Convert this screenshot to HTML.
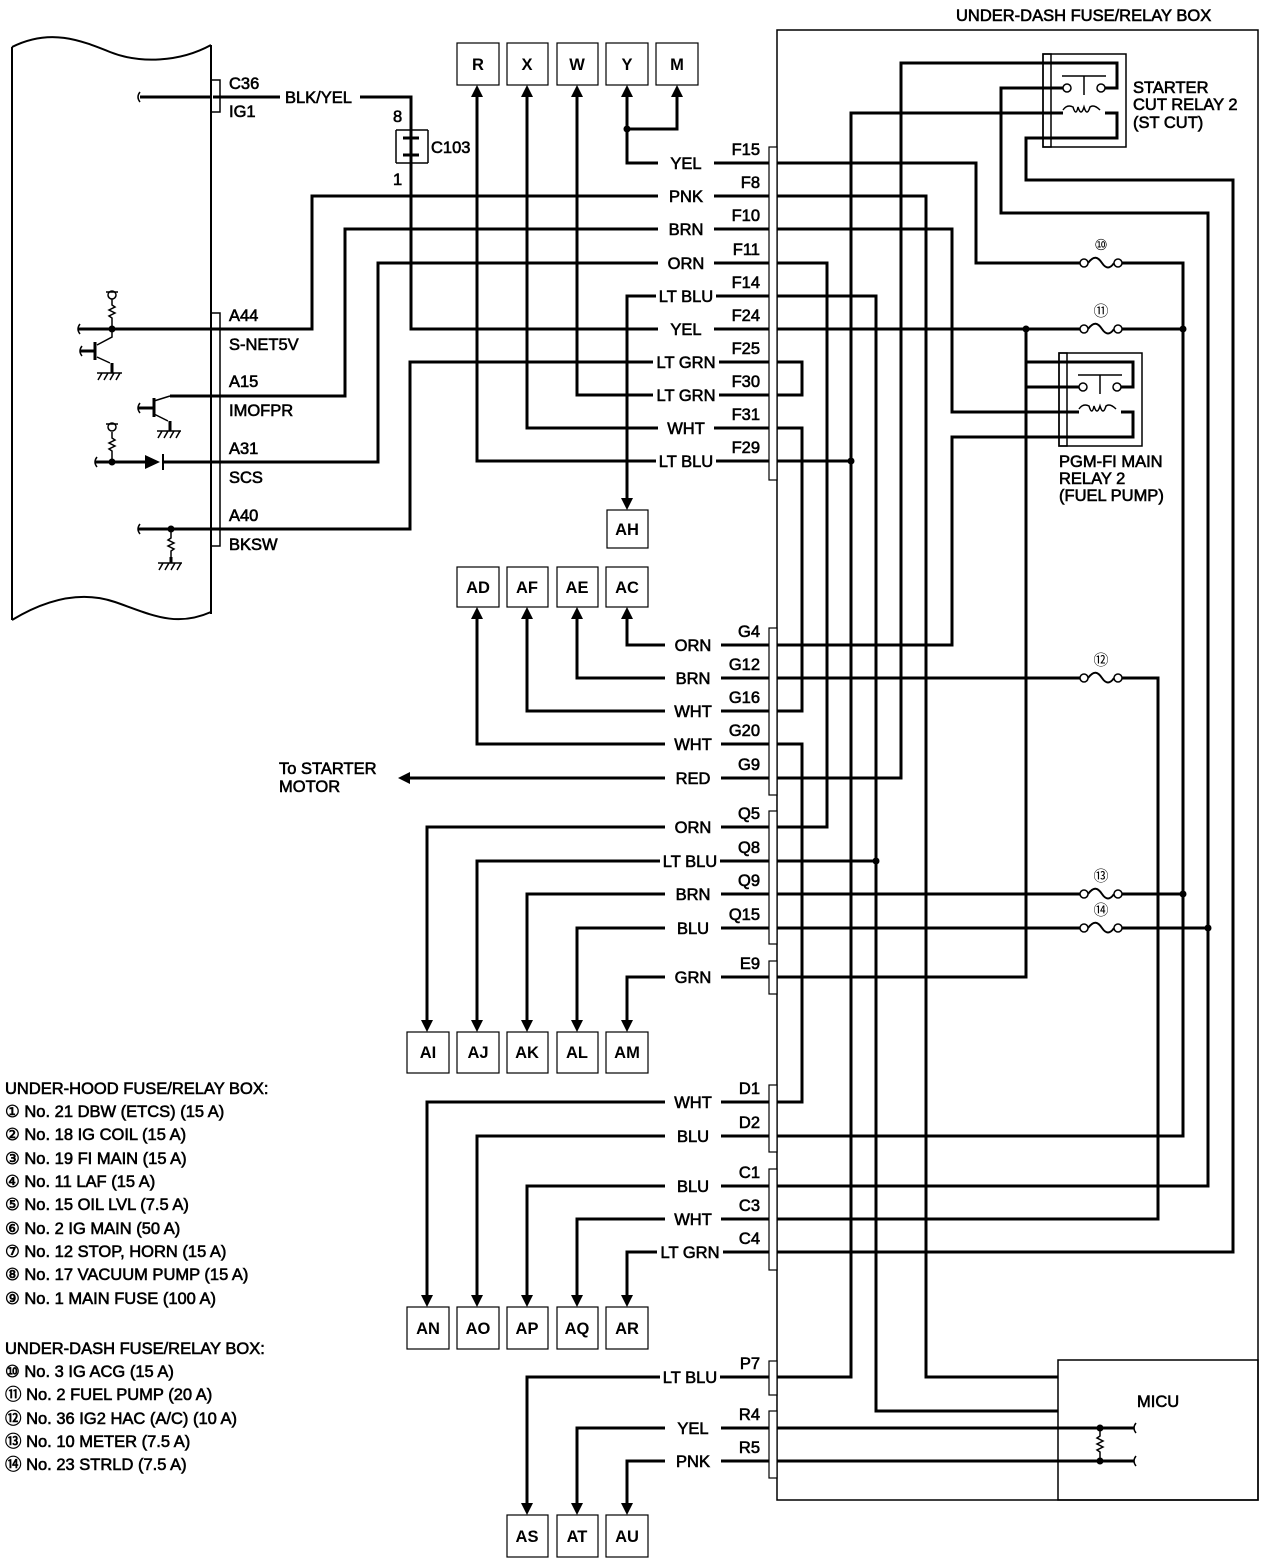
<!DOCTYPE html>
<html><head><meta charset="utf-8"><style>
html,body{margin:0;padding:0;background:#fff;}
svg{display:block;}
text{font-family:"Liberation Sans","DejaVu Sans","Noto Sans CJK JP",sans-serif;fill:#000;}
.t{font-size:16.5px;stroke:#000;stroke-width:0.6;}
.b{font-size:16.5px;font-weight:bold;text-anchor:middle;}
.wl{font-size:16.5px;text-anchor:middle;stroke:#000;stroke-width:0.6;}
.cl{font-size:16.5px;text-anchor:end;stroke:#000;stroke-width:0.6;}
.fz{font-size:15px;text-anchor:middle;}
</style></head><body>
<svg width="1280" height="1562" viewBox="0 0 1280 1562" xmlns="http://www.w3.org/2000/svg">
<rect width="1280" height="1562" fill="#fff"/>

<path d="M12,47 C50,28 80,40 110,52 S180,62 211,45 M12,47 V620 M211,45 V614 M12,620 C45,600 80,590 115,602 S175,628 211,612" fill="none" stroke="#000" stroke-width="2"/>

<rect x="777" y="30" width="481" height="1470" fill="none" stroke="#000" stroke-width="1.5"/>
<rect x="1058" y="1360" width="200" height="140" fill="none" stroke="#000" stroke-width="1.5"/>

<g fill="none" stroke="#000" stroke-width="3">
<path d="M140,97 H211 M213,97 H280 M360,97 H411 V329 H769"/>
<path d="M78,329 H213"/>
<path d="M170,396 H213"/>
<path d="M95,462 H145 M163,462 H213"/>
<path d="M138,529 H213"/>
<path d="M627,95 V163 H769 M627,129 H677 V95"/>
<path d="M213,329 H312 V196 H769"/>
<path d="M213,396 H345 V229 H769"/>
<path d="M213,462 H378 V263 H769"/>
<path d="M627,500 V296 H769"/>
<path d="M213,529 H410 V362 H769"/>
<path d="M577,95 V395 H769"/>
<path d="M527,95 V428 H769"/>
<path d="M477,95 V461 H769"/>
<path d="M627,617 V645 H769"/>
<path d="M577,617 V678 H769"/>
<path d="M527,617 V711 H769"/>
<path d="M477,617 V744 H769"/>
<path d="M408,778 H769"/>
<path d="M427,1022 V827 H769"/>
<path d="M477,1022 V861 H769"/>
<path d="M527,1022 V894 H769"/>
<path d="M577,1022 V928 H769"/>
<path d="M627,1022 V977 H769"/>
<path d="M427,1297 V1102 H769"/>
<path d="M477,1297 V1136 H769"/>
<path d="M527,1297 V1186 H769"/>
<path d="M577,1297 V1219 H769"/>
<path d="M627,1297 V1252 H769"/>
<path d="M527,1505 V1377 H769"/>
<path d="M577,1505 V1428 H769"/>
<path d="M627,1505 V1461 H769"/>
<path d="M777,163 H976 V263 H1082 M1120,263 H1183 V1136 H777"/>
<path d="M777,196 H926 V1377 H1058"/>
<path d="M777,229 H952 V412 H1079"/>
<path d="M777,263 H827 V827 H777"/>
<path d="M777,296 H876 V1411 H1058"/>
<path d="M777,329 H1082 M1120,329 H1183"/>
<path d="M1026,329 V977 H777"/>
<path d="M777,362 H802 V395 H777"/>
<path d="M777,428 H802 V711 H777"/>
<path d="M777,461 H851"/>
<path d="M1063,113 H851 V1377 H777"/>
<path d="M777,645 H952 V437 H1133 V412 H1121"/>
<path d="M777,678 H1082 M1120,678 H1158 V1219 H777"/>
<path d="M777,744 H802 V1102 H777"/>
<path d="M777,778 H901 V63 H1117 V88 H1105"/>
<path d="M777,861 H876"/>
<path d="M777,894 H1082 M1120,894 H1183"/>
<path d="M777,928 H1082 M1120,928 H1208"/>
<path d="M1063,88 H1001 V213 H1208 V1186 H777"/>
<path d="M1105,113 H1117 V138 H1026 V180 H1233 V1252 H777"/>
<path d="M1026,362 H1133 V387 H1121 M1026,387 H1079"/>
<path d="M777,1428 H1134 M777,1461 H1134"/>
</g>

<g fill="none" stroke="#000" stroke-width="1.5">
<path d="M140,92 q-4,5 0,10 M80,324 q-4,5 0,10 M82,346 q-4,5 0,10 M140,403 q-4,5 0,10 M97,457 q-4,5 0,10 M140,524 q-4,5 0,10"/>
<path d="M112,329 V318 l-3,-2 6,-3 -6,-3 6,-3 -3,-2 V299 M112,462 V451 l-3,-2 6,-3 -6,-3 6,-3 -3,-2 V432 M171,529 V538 l-3,2 6,3 -6,3 6,3 -3,2 V560"/>
<circle cx="112" cy="295" r="4" fill="#fff"/><circle cx="112" cy="427" r="4" fill="#fff"/>
<path d="M106,292 H118 M106,424 H118"/>
<path d="M97,345 L112,337 V329 M97,357 L110,363 M154,401 L170,396 M154,414 L168,421"/>
<path d="M97,373 H122 M102,373 l-4,7 M108,373 l-4,7 M114,373 l-4,7 M120,373 l-4,7"/>
<path d="M157,431 H181 M162,431 l-4,7 M168,431 l-4,7 M174,431 l-4,7 M180,431 l-4,7"/>
<path d="M158,563 H182 M163,563 l-4,7 M169,563 l-4,7 M175,563 l-4,7 M181,563 l-4,7"/>
<path d="M212,80 H220 V112 H212 M212,313 H220 V546 H212"/>
<path d="M396,130 H428 M396,130 V163 M428,130 V163 M396,163 H428"/>
</g>
<g fill="none" stroke="#000" stroke-width="3">
<path d="M95,342 V360 M80,351 H95 M112,363 V373 M154,398 V417 M138,408 H154 M170,421 V431 M171,557 V563"/>
<path d="M403,138 H419 M403,155 H419"/>
</g>
<polygon points="145,455 160,462 145,469" fill="#000"/>
<path d="M163,454 V470" stroke="#000" stroke-width="2"/>

<g fill="none" stroke="#000" stroke-width="1.5">
<rect x="1043" y="54" width="83" height="93" fill="none"/>
<rect x="1043" y="54" width="8" height="93"/>
<path d="M1062,76 H1106 M1084,76 V95"/>
<path d="M1063,110 q4,-6 10,-3 q3,10 5,0 q3,10 6,0 q3,10 6,0 q4,-3 10,3"/>
<circle cx="1067" cy="88" r="4" fill="#fff"/><circle cx="1101" cy="88" r="4" fill="#fff"/>
<rect x="1059" y="353" width="83" height="93"/>
<rect x="1059" y="353" width="8" height="93"/>
<path d="M1078,375 H1122 M1100,375 V394"/>
<path d="M1079,409 q4,-6 10,-3 q3,10 5,0 q3,10 6,0 q3,10 6,0 q4,-3 10,3"/>
<circle cx="1083" cy="387" r="4" fill="#fff"/><circle cx="1117" cy="387" r="4" fill="#fff"/>
</g>
<g fill="none" stroke="#000" stroke-width="3">
<path d="M1051,63 H1117 M1051,88 H1063 M1051,113 H1063 M1051,138 H1117"/>
<path d="M1067,362 H1133 M1067,387 H1079 M1067,412 H1079 M1067,437 H1133"/>
</g>

<g fill="#fff" stroke="#000" stroke-width="1.5">
<path d="M1088,263 c6,-8 10,-6 14,0 s8,6 12,0 M1088,329 c6,-8 10,-6 14,0 s8,6 12,0 M1088,678 c6,-8 10,-6 14,0 s8,6 12,0 M1088,894 c6,-8 10,-6 14,0 s8,6 12,0 M1088,928 c6,-8 10,-6 14,0 s8,6 12,0" fill="none" stroke-width="2"/>
<circle cx="1084" cy="263" r="4"/><circle cx="1118" cy="263" r="4"/>
<circle cx="1084" cy="329" r="4"/><circle cx="1118" cy="329" r="4"/>
<circle cx="1084" cy="678" r="4"/><circle cx="1118" cy="678" r="4"/>
<circle cx="1084" cy="894" r="4"/><circle cx="1118" cy="894" r="4"/>
<circle cx="1084" cy="928" r="4"/><circle cx="1118" cy="928" r="4"/>
</g>
<text class="fz" x="1101" y="250">⑩</text>
<text class="fz" x="1101" y="316">⑪</text>
<text class="fz" x="1101" y="665">⑫</text>
<text class="fz" x="1101" y="881">⑬</text>
<text class="fz" x="1101" y="915">⑭</text>

<path d="M1100,1428 V1436 l-3,2 6,3 -6,3 6,3 -6,3 3,2 V1461 M1136,1423 q-4,5 0,10 M1136,1456 q-4,5 0,10" fill="none" stroke="#000" stroke-width="1.5"/>

<g fill="#000">
<circle cx="627" cy="129" r="3.5"/><circle cx="1026" cy="329" r="3.5"/><circle cx="1183" cy="329" r="3.5"/>
<circle cx="851" cy="461" r="3.5"/><circle cx="876" cy="861" r="3.5"/><circle cx="1183" cy="894" r="3.5"/>
<circle cx="1208" cy="928" r="3.5"/><circle cx="1100" cy="1428" r="3.5"/><circle cx="1100" cy="1461" r="3.5"/>
<circle cx="112" cy="329" r="3.5"/><circle cx="112" cy="462" r="3.5"/><circle cx="171" cy="529" r="3.5"/>
</g>

<g fill="#000">
<polygon points="477,85 471,97 483,97"/><polygon points="527,85 521,97 533,97"/><polygon points="577,85 571,97 583,97"/>
<polygon points="627,85 621,97 633,97"/><polygon points="677,85 671,97 683,97"/>
<polygon points="477,607 471,619 483,619"/><polygon points="527,607 521,619 533,619"/><polygon points="577,607 571,619 583,619"/><polygon points="627,607 621,619 633,619"/>
<polygon points="627,510 621,498 633,498"/>
<polygon points="427,1032 421,1020 433,1020"/><polygon points="477,1032 471,1020 483,1020"/><polygon points="527,1032 521,1020 533,1020"/><polygon points="577,1032 571,1020 583,1020"/><polygon points="627,1032 621,1020 633,1020"/>
<polygon points="427,1307 421,1295 433,1295"/><polygon points="477,1307 471,1295 483,1295"/><polygon points="527,1307 521,1295 533,1295"/><polygon points="577,1307 571,1295 583,1295"/><polygon points="627,1307 621,1295 633,1295"/>
<polygon points="527,1515 521,1503 533,1503"/><polygon points="577,1515 571,1503 583,1503"/><polygon points="627,1515 621,1503 633,1503"/>
<polygon points="398,778 410,772 410,784"/>
</g>

<g fill="#fff" stroke="#000" stroke-width="1.2">
<rect x="769" y="147" width="8" height="333"/>
<rect x="769" y="628" width="8" height="167"/>
<rect x="769" y="811" width="8" height="133"/>
<rect x="769" y="961" width="8" height="33"/>
<rect x="769" y="1085" width="8" height="67"/>
<rect x="769" y="1169" width="8" height="101"/>
<rect x="769" y="1361" width="8" height="34"/>
<rect x="769" y="1411" width="8" height="67"/>
</g>

<g fill="#fff" stroke="#000" stroke-width="1.2">
<rect x="457" y="43" width="42" height="42"/><rect x="507" y="43" width="41" height="42"/><rect x="557" y="43" width="41" height="42"/><rect x="606" y="43" width="42" height="42"/><rect x="656" y="43" width="42" height="42"/>
<rect x="607" y="510" width="41" height="38"/>
<rect x="457" y="567" width="42" height="40"/><rect x="507" y="567" width="41" height="40"/><rect x="557" y="567" width="41" height="40"/><rect x="606" y="567" width="42" height="40"/>
<rect x="407" y="1032" width="42" height="41"/><rect x="457" y="1032" width="42" height="41"/><rect x="507" y="1032" width="41" height="41"/><rect x="557" y="1032" width="41" height="41"/><rect x="606" y="1032" width="42" height="41"/>
<rect x="407" y="1307" width="42" height="42"/><rect x="457" y="1307" width="42" height="42"/><rect x="507" y="1307" width="41" height="42"/><rect x="557" y="1307" width="41" height="42"/><rect x="606" y="1307" width="42" height="42"/>
<rect x="507" y="1515" width="41" height="42"/><rect x="557" y="1515" width="41" height="42"/><rect x="606" y="1515" width="42" height="42"/>
</g>
<g>
<text class="b" x="478" y="70">R</text><text class="b" x="527" y="70">X</text><text class="b" x="577" y="70">W</text><text class="b" x="627" y="70">Y</text><text class="b" x="677" y="70">M</text>
<text class="b" x="627" y="535">AH</text>
<text class="b" x="478" y="593">AD</text><text class="b" x="527" y="593">AF</text><text class="b" x="577" y="593">AE</text><text class="b" x="627" y="593">AC</text>
<text class="b" x="428" y="1058">AI</text><text class="b" x="478" y="1058">AJ</text><text class="b" x="527" y="1058">AK</text><text class="b" x="577" y="1058">AL</text><text class="b" x="627" y="1058">AM</text>
<text class="b" x="428" y="1334">AN</text><text class="b" x="478" y="1334">AO</text><text class="b" x="527" y="1334">AP</text><text class="b" x="577" y="1334">AQ</text><text class="b" x="627" y="1334">AR</text>
<text class="b" x="527" y="1542">AS</text><text class="b" x="577" y="1542">AT</text><text class="b" x="627" y="1542">AU</text>
</g>

<g fill="#fff">
<rect x="280" y="88" width="80" height="18"/>
<rect x="658" y="155" width="56" height="16"/><rect x="658" y="188" width="56" height="16"/><rect x="658" y="221" width="56" height="16"/><rect x="658" y="255" width="56" height="16"/>
<rect x="656" y="288" width="60" height="16"/><rect x="658" y="321" width="56" height="16"/><rect x="653" y="354" width="66" height="16"/><rect x="653" y="387" width="66" height="16"/>
<rect x="658" y="420" width="56" height="16"/><rect x="656" y="453" width="60" height="16"/>
<rect x="665" y="637" width="56" height="16"/><rect x="665" y="670" width="56" height="16"/><rect x="665" y="703" width="56" height="16"/><rect x="665" y="736" width="56" height="16"/><rect x="665" y="770" width="56" height="16"/>
<rect x="665" y="819" width="56" height="16"/><rect x="660" y="853" width="60" height="16"/><rect x="665" y="886" width="56" height="16"/><rect x="665" y="920" width="56" height="16"/><rect x="665" y="969" width="56" height="16"/>
<rect x="665" y="1094" width="56" height="16"/><rect x="665" y="1128" width="56" height="16"/><rect x="665" y="1178" width="56" height="16"/><rect x="665" y="1211" width="56" height="16"/><rect x="657" y="1244" width="66" height="16"/>
<rect x="660" y="1369" width="60" height="16"/><rect x="665" y="1420" width="56" height="16"/><rect x="665" y="1453" width="56" height="16"/>
</g>

<g>
<text class="wl" x="686" y="169">YEL</text><text class="wl" x="686" y="202">PNK</text><text class="wl" x="686" y="235">BRN</text><text class="wl" x="686" y="269">ORN</text>
<text class="wl" x="686" y="302">LT BLU</text><text class="wl" x="686" y="335">YEL</text><text class="wl" x="686" y="368">LT GRN</text><text class="wl" x="686" y="401">LT GRN</text>
<text class="wl" x="686" y="434">WHT</text><text class="wl" x="686" y="467">LT BLU</text>
<text class="wl" x="693" y="651">ORN</text><text class="wl" x="693" y="684">BRN</text><text class="wl" x="693" y="717">WHT</text><text class="wl" x="693" y="750">WHT</text><text class="wl" x="693" y="784">RED</text>
<text class="wl" x="693" y="833">ORN</text><text class="wl" x="690" y="867">LT BLU</text><text class="wl" x="693" y="900">BRN</text><text class="wl" x="693" y="934">BLU</text><text class="wl" x="693" y="983">GRN</text>
<text class="wl" x="693" y="1108">WHT</text><text class="wl" x="693" y="1142">BLU</text><text class="wl" x="693" y="1192">BLU</text><text class="wl" x="693" y="1225">WHT</text><text class="wl" x="690" y="1258">LT GRN</text>
<text class="wl" x="690" y="1383">LT BLU</text><text class="wl" x="693" y="1434">YEL</text><text class="wl" x="693" y="1467">PNK</text>
</g>
<g>
<text class="cl" x="760" y="155">F15</text><text class="cl" x="760" y="188">F8</text><text class="cl" x="760" y="221">F10</text><text class="cl" x="760" y="255">F11</text><text class="cl" x="760" y="288">F14</text>
<text class="cl" x="760" y="321">F24</text><text class="cl" x="760" y="354">F25</text><text class="cl" x="760" y="387">F30</text><text class="cl" x="760" y="420">F31</text><text class="cl" x="760" y="453">F29</text>
<text class="cl" x="760" y="637">G4</text><text class="cl" x="760" y="670">G12</text><text class="cl" x="760" y="703">G16</text><text class="cl" x="760" y="736">G20</text><text class="cl" x="760" y="770">G9</text>
<text class="cl" x="760" y="819">Q5</text><text class="cl" x="760" y="853">Q8</text><text class="cl" x="760" y="886">Q9</text><text class="cl" x="760" y="920">Q15</text><text class="cl" x="760" y="969">E9</text>
<text class="cl" x="760" y="1094">D1</text><text class="cl" x="760" y="1128">D2</text><text class="cl" x="760" y="1178">C1</text><text class="cl" x="760" y="1211">C3</text><text class="cl" x="760" y="1244">C4</text>
<text class="cl" x="760" y="1369">P7</text><text class="cl" x="760" y="1420">R4</text><text class="cl" x="760" y="1453">R5</text>
</g>

<g>
<text class="t" x="229" y="89">C36</text><text class="t" x="229" y="117">IG1</text>
<text class="t" x="285" y="103">BLK/YEL</text>
<text class="t" x="393" y="122">8</text><text class="t" x="393" y="185">1</text><text class="t" x="431" y="153">C103</text>
<text class="t" x="229" y="321">A44</text><text class="t" x="229" y="350">S-NET5V</text>
<text class="t" x="229" y="387">A15</text><text class="t" x="229" y="416">IMOFPR</text>
<text class="t" x="229" y="454">A31</text><text class="t" x="229" y="483">SCS</text>
<text class="t" x="229" y="521">A40</text><text class="t" x="229" y="550">BKSW</text>
<text class="t" x="279" y="774">To STARTER</text><text class="t" x="279" y="792">MOTOR</text>
<text class="t" x="956" y="21">UNDER-DASH FUSE/RELAY BOX</text>
<text class="t" x="1133" y="93">STARTER</text><text class="t" x="1133" y="110">CUT RELAY 2</text><text class="t" x="1133" y="128">(ST CUT)</text>
<text class="t" x="1059" y="467">PGM-FI MAIN</text><text class="t" x="1059" y="484">RELAY 2</text><text class="t" x="1059" y="501">(FUEL PUMP)</text>
<text class="t" x="1137" y="1407">MICU</text>
<text class="t" x="5" y="1094">UNDER-HOOD FUSE/RELAY BOX:</text>
<text class="t" x="5" y="1117">① No. 21 DBW (ETCS) (15 A)</text>
<text class="t" x="5" y="1140">② No. 18 IG COIL (15 A)</text>
<text class="t" x="5" y="1164">③ No. 19 FI MAIN (15 A)</text>
<text class="t" x="5" y="1187">④ No. 11 LAF (15 A)</text>
<text class="t" x="5" y="1210">⑤ No. 15 OIL LVL (7.5 A)</text>
<text class="t" x="5" y="1234">⑥ No. 2 IG MAIN (50 A)</text>
<text class="t" x="5" y="1257">⑦ No. 12 STOP, HORN (15 A)</text>
<text class="t" x="5" y="1280">⑧ No. 17 VACUUM PUMP (15 A)</text>
<text class="t" x="5" y="1304">⑨ No. 1 MAIN FUSE (100 A)</text>
<text class="t" x="5" y="1354">UNDER-DASH FUSE/RELAY BOX:</text>
<text class="t" x="5" y="1377">⑩ No. 3 IG ACG (15 A)</text>
<text class="t" x="5" y="1400">⑪ No. 2 FUEL PUMP (20 A)</text>
<text class="t" x="5" y="1424">⑫ No. 36 IG2 HAC (A/C) (10 A)</text>
<text class="t" x="5" y="1447">⑬ No. 10 METER (7.5 A)</text>
<text class="t" x="5" y="1470">⑭ No. 23 STRLD (7.5 A)</text>
</g>
</svg>
</body></html>
